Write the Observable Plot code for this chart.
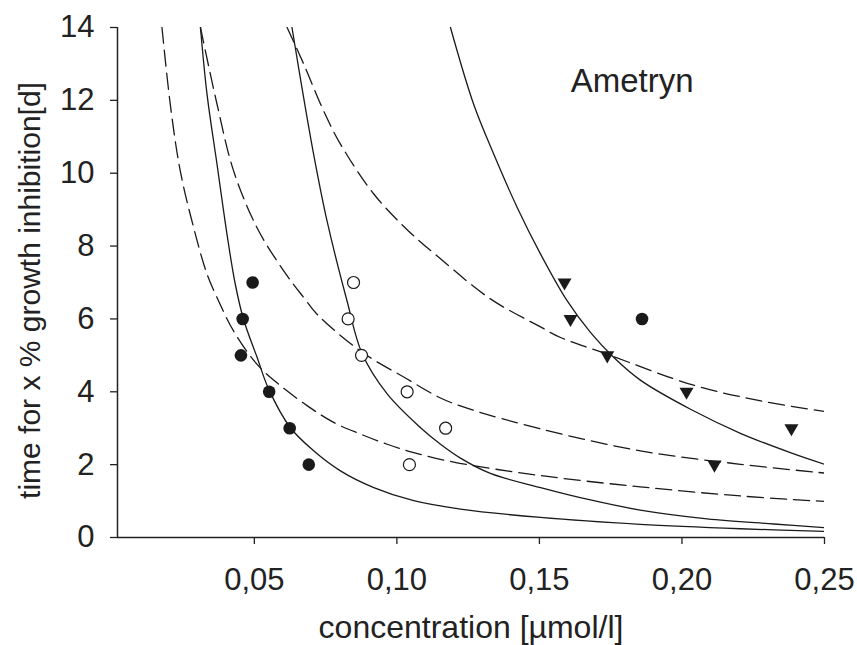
<!DOCTYPE html>
<html><head><meta charset="utf-8">
<script src="https://cdn.jsdelivr.net/npm/d3@7"></script>
<script src="https://cdn.jsdelivr.net/npm/@observablehq/plot@0.6"></script>
<style>
body{margin:0;background:#fff;}
#chart svg{display:block;}
</style></head><body><div id="chart"></div>
<script>
const chartTitle = "Ametryn";
const xLabel = "concentration [µmol/l]";
const yLabel = "time for x % growth inhibition[d]";
const xTicks = [0.05, 0.10, 0.15, 0.20, 0.25];
const yTicks = [0, 2, 4, 6, 8, 10, 12, 14];
const xDomain = [0.002, 0.25];
const yDomain = [0, 14];

// measured points
const filledX = [0.0494, 0.0459, 0.0453, 0.0552, 0.0624, 0.0691, 0.1860];
const filledY = [7, 6, 5, 4, 3, 2, 6];
const openX = [0.0848, 0.0829, 0.0876, 0.1036, 0.1171, 0.1044];
const openY = [7, 6, 5, 4, 3, 2];
const triX = [0.1588, 0.1609, 0.1738, 0.2016, 0.2384, 0.2114];
const triY = [7, 6, 5, 4, 3, 2];

// fitted curves
const solidAX = [0.0311, 0.0334, 0.0369, 0.0404, 0.0432, 0.0462, 0.0509, 0.0550, 0.0626, 0.0708, 0.0802, 0.0919, 0.1059, 0.1223, 0.1504, 0.1854, 0.2205, 0.25];
const solidAY = [14.0, 12.17, 10.25, 8.33, 7.0, 5.99, 4.96, 4.08, 3.02, 2.38, 1.83, 1.37, 1.01, 0.78, 0.55, 0.36, 0.24, 0.17];
const solidBX = [0.0632, 0.0667, 0.0708, 0.0755, 0.0825, 0.0878, 0.0966, 0.1082, 0.1153, 0.1223, 0.1328, 0.1504, 0.1679, 0.1854, 0.2088, 0.2322, 0.25];
const solidBY = [14.0, 12.35, 10.52, 8.69, 6.50, 5.05, 3.94, 3.02, 2.56, 2.18, 1.76, 1.37, 1.03, 0.75, 0.51, 0.37, 0.27];
const solidCX = [0.1188, 0.1269, 0.1340, 0.1422, 0.1504, 0.1597, 0.1679, 0.1761, 0.1854, 0.2030, 0.2205, 0.2380, 0.25];
const solidCY = [14.0, 11.90, 10.52, 9.06, 7.78, 6.50, 5.63, 4.94, 4.32, 3.52, 2.86, 2.33, 2.01];
const dashAX = [0.0176, 0.0205, 0.0240, 0.0287, 0.0334, 0.0369, 0.0427, 0.0509, 0.0585, 0.0685, 0.0778, 0.0872, 0.0966, 0.1059, 0.1199, 0.1504, 0.1854, 0.2205, 0.25];
const dashAY = [14.0, 11.90, 10.07, 8.51, 7.23, 6.59, 5.67, 4.76, 4.21, 3.62, 3.16, 2.84, 2.56, 2.33, 2.07, 1.70, 1.39, 1.14, 0.99];
const dashBX = [0.0311, 0.0369, 0.0427, 0.0509, 0.0603, 0.0673, 0.0720, 0.0872, 0.1036, 0.1153, 0.1246, 0.1504, 0.1854, 0.2205, 0.25];
const dashBY = [14.0, 11.90, 10.07, 8.51, 7.32, 6.59, 6.13, 5.12, 4.35, 3.83, 3.55, 2.98, 2.38, 2.01, 1.77];
const dashCX = [0.0615, 0.0673, 0.0743, 0.0802, 0.0919, 0.1036, 0.1153, 0.1328, 0.1504, 0.1574, 0.1738, 0.2041, 0.2277, 0.25];
const dashCY = [14.0, 13.0, 11.71, 10.80, 9.43, 8.45, 7.65, 6.55, 5.78, 5.49, 5.03, 4.18, 3.75, 3.46];

const zip = (xs, ys) => xs.map((x, i) => ({x, y: ys[i]}));
const fmt = d => d.toFixed(2).replace(".", ",");
const ink = "#1a1a1a";
const solidOpts = {x: "x", y: "y", curve: "catmull-rom", stroke: ink, strokeWidth: 1.3, clip: true};
const dashOpts = {...solidOpts, strokeDasharray: "16,7"};

const chart = Plot.plot({
  width: 857,
  height: 645,
  marginLeft: 117,
  marginRight: 33,
  marginTop: 27,
  marginBottom: 108,
  x: {domain: xDomain},
  y: {domain: yDomain},
  style: {fontFamily: "'Liberation Sans', Arial, sans-serif", color: "#222", background: "#fff"},
  marks: [
    Plot.line(zip(solidAX, solidAY), solidOpts),
    Plot.line(zip(solidBX, solidBY), solidOpts),
    Plot.line(zip(solidCX, solidCY), solidOpts),
    Plot.line(zip(dashAX, dashAY), dashOpts),
    Plot.line(zip(dashBX, dashBY), dashOpts),
    Plot.line(zip(dashCX, dashCY), dashOpts),
    Plot.axisX({ticks: xTicks, tickFormat: fmt, tickSize: 7, tickPadding: 23, fontSize: 31, label: null, strokeWidth: 1.3}),
    Plot.axisY({ticks: yTicks, tickSize: 7, tickPadding: 16, fontSize: 31, label: null, strokeWidth: 1.3}),
    Plot.ruleX([xDomain[0]], {stroke: "#222", strokeWidth: 1.5}),
    Plot.ruleY([yDomain[0]], {stroke: "#222", strokeWidth: 1.5}),
    Plot.dot(zip(filledX, filledY), {x: "x", y: "y", r: 6.3, fill: ink, stroke: "none", symbol: "circle"}),
    Plot.dot(zip(openX, openY), {x: "x", y: "y", r: 6, fill: "#fff", stroke: ink, strokeWidth: 1.2, symbol: "circle"}),
    Plot.dot(zip(triX, triY), {x: "x", y: "y", r: 5.2, fill: ink, stroke: "none", symbol: "triangle", rotate: 180}),
    Plot.text([xLabel], {text: d => d, frameAnchor: "bottom", dy: 100, fontSize: 32, fill: "#222"}),
    Plot.text([yLabel], {text: d => d, frameAnchor: "left", textAnchor: "middle", dx: -87, dy: 8, rotate: -90, fontSize: 30, fill: "#222"}),
    Plot.text([chartTitle], {text: d => d, frameAnchor: "top-right", dx: -131, dy: 41, textAnchor: "end", fontSize: 33, fill: "#222"})
  ]
});
document.getElementById("chart").append(chart);
</script></body></html>
